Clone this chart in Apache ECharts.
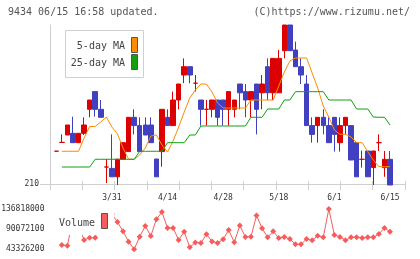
<!DOCTYPE html>
<html>
<head>
<meta charset="utf-8">
<script src="https://cdn.jsdelivr.net/npm/echarts@6/dist/echarts.min.js"></script>
<style>
html, body { margin: 0; padding: 0; background: #fff; }
#chart { width: 420px; height: 259px; }
</style>
</head>
<body>
<div id="chart"></div>
<script>
"use strict";
// trading days shown on the chart
var days = ['3/17','3/18','3/19','3/22','3/23','3/24','3/25','3/26','3/29','3/30',
  '3/31','4/1','4/2','4/5','4/6','4/7','4/8','4/9','4/12','4/13',
  '4/14','4/15','4/16','4/19','4/20','4/21','4/22','4/23','4/26','4/27',
  '4/28','4/30','5/6','5/7','5/10','5/11','5/12','5/13','5/14','5/17',
  '5/18','5/19','5/20','5/21','5/24','5/25','5/26','5/27','5/28','5/31',
  '6/1','6/2','6/3','6/4','6/7','6/8','6/9','6/10','6/11','6/14','6/15'];

// [open, close, low, high]
var candles = [
  [218.2, 218.2, 218.2, 218.2], [220.4, 220.4, 220.3, 222.4], [222.25, 224.75, 222.25, 224.75],
  [222.67, 220.33, 220.33, 226.83], [220.33, 222.67, 220.33, 222.67], [222.67, 224.75, 222.25, 226.67],
  [228.67, 231, 226.67, 231], [233.1, 228.67, 226.83, 233.1], [228.67, 226.67, 226.67, 231],
  [214.25, 214.25, 210.25, 216.25], [213.9, 211.8, 211.8, 222.4], [211.8, 216.2, 209.75, 216.2],
  [216.17, 220.33, 216.17, 220.33], [218.1, 226.67, 218.1, 226.67], [226.67, 224.6, 222.4, 228.67],
  [224.6, 218.1, 218.1, 226.67], [224.75, 222.25, 222.25, 226.67], [224.75, 220.33, 220.33, 226.67],
  [216.25, 211.8, 211.8, 216.25], [218.1, 228.67, 214.33, 228.67], [226.67, 224.6, 224.6, 228.67],
  [224.6, 231, 224.6, 233.1], [231, 235, 228.67, 235], [237.25, 239.33, 235.2, 241.4],
  [239.33, 237.25, 235.2, 239.33], [235.2, 235.2, 233.1, 237.25], [231, 228.67, 224.6, 231],
  [228.67, 228.67, 224.6, 231], [228.67, 231, 226.67, 231], [231, 226.67, 224.6, 231],
  [231, 228.67, 224.6, 231], [228.67, 233.1, 224.6, 233.1], [228.67, 231, 226.67, 231],
  [235, 232.8, 228.67, 235], [233.1, 231, 226.67, 235], [231, 233.1, 226.67, 233.1],
  [235, 228.67, 222.4, 235], [232.8, 235, 228.67, 237.25], [239.33, 232.8, 231, 241.4],
  [232.8, 241.4, 231, 241.4], [232.8, 241.4, 232.8, 243.5], [243.33, 249.75, 241.4, 249.75],
  [249.75, 243.33, 243.33, 249.75], [243.5, 239.33, 239.33, 245.6], [239.33, 237.25, 235, 241.4],
  [235, 224.6, 224.6, 237.25], [224.6, 222.4, 220.33, 226.67], [224.6, 226.67, 220.33, 226.67],
  [226.67, 224.6, 222.4, 228.67], [224.6, 220.33, 220.33, 226.67], [226.67, 222.4, 218.1, 226.67],
  [220.33, 224.6, 218.1, 226.67], [224.6, 226.67, 222.4, 226.67], [224.6, 216, 216, 224.6],
  [220.33, 211.8, 211.8, 220.33], [216.17, 216.17, 214.1, 218.33], [218.25, 211.8, 211.8, 218.25],
  [214.1, 218.25, 209.75, 218.25], [220.33, 220.33, 218.25, 222.4], [214.1, 216.17, 211.8, 218.25],
  [216.17, 209.75, 209.75, 218.25]
];

var ma5 = [null, 218.18, 218.18, 218.18, 218.18, 221.5, 224.38, 224.38, 225.5, 226.75,
  224.25, 222.5, 219, 216.18, 216.18, 217.25, 219, 222, 222.25, 219.75,
  218, 220.75, 224.25, 228, 231.5, 233.5, 235, 235, 233, 230.25,
  229, 229, 229, 229, 229, 231, 231, 231, 231, 231,
  234.5, 238, 240.75, 241.5, 241.5, 241.5, 237.75, 234, 229.5, 226.75,
  223.5, 222.43, 222.43, 221.75, 220.33, 220.33, 218.08, 216, 214.33, 214.33, 214.33];

var ma25 = [null, 214.25, 214.25, 214.25, 214.25, 214.25, 214.25, 216.18, 216.18, 216.18,
  216.18, 216.18, 216.18, 216.18, 216.18, 218.18, 218.18, 218.18, 218.18, 218.18,
  220.33, 220.33, 220.33, 220.33, 222.25, 222.25, 224.5, 224.5, 224.5, 224.5,
  224.5, 224.5, 224.5, 224.5, 224.5, 226.68, 226.68, 226.68, 228.75, 228.75,
  228.75, 231, 231, 233.08, 233.08, 233.08, 233.08, 233.08, 233.08, 231,
  231, 231, 231, 231, 228.75, 228.75, 228.75, 226.75, 226.68, 226.68, 224.75];

var volume = [null, 52680000, 51040000, 115780000, 99420000, 64360000, 69740000, 69740000, 106430000, 111110000,
  125130000, 106430000, 84930000, 60390000, 42630000, 72080000, 97080000, 73710000, 112740000, 129800000,
  92410000, 92410000, 64360000, 83760000, 47300000, 58520000, 57350000, 77920000, 60860000, 57350000,
  66230000, 87730000, 58990000, 98480000, 71370000, 72080000, 121620000, 91710000, 70670000, 84700000,
  69040000, 71370000, 66700000, 54310000, 54310000, 66700000, 63660000, 74180000, 70670000, 136810000,
  76050000, 71370000, 63660000, 70670000, 70670000, 69040000, 70670000, 70670000, 78390000, 92410000, 83760000];

var volTicks = [43326200, 90072100, 136818000];
var priceTicks = [210];
var shownDays = ['3/31', '4/14', '4/28', '5/18', '6/1', '6/15'];

var mono = 'DejaVu Sans Mono';
var gridLine = '#cfcfcf';
var upColor = '#dd0000';
var downColor = '#4040c0';
var ma5Color = '#ff8c00';
var ma25Color = '#10a010';
var volColor = '#f75c5c';

var chart = echarts.init(document.getElementById('chart'), null, { renderer: 'canvas' });

var option = {
  animation: false,
  backgroundColor: '#fff',
  grid: [
    { left: 53.5, right: 27.2, top: 25, height: 159, outerBoundsMode: 'none' },   // candles
    { left: 50, right: 15, top: 25, height: 159, outerBoundsMode: 'none' },       // frame + ticks
    { left: 53.5, right: 27.2, top: 209, height: 40, outerBoundsMode: 'none' }    // volume
  ],
  xAxis: [
    {
      type: 'category', gridIndex: 0, data: days, boundaryGap: true,
      axisLine: { show: false }, axisTick: { show: false }, splitLine: { show: false },
      axisLabel: {
        interval: function (idx, val) { return shownDays.indexOf(val) >= 0; },
        margin: 10, fontFamily: mono, fontSize: 8, color: '#333'
      }
    },
    {
      type: 'value', gridIndex: 1, min: 0, max: 11, interval: 1, position: 'bottom',
      axisLine: { lineStyle: { color: gridLine } },
      axisTick: { length: 6, lineStyle: { color: gridLine } },
      axisLabel: { show: false }, splitLine: { show: false }
    },
    {
      type: 'value', gridIndex: 1, min: 0, max: 11, interval: 1, position: 'bottom',
      axisLine: { show: false },
      axisTick: { inside: true, length: 3, lineStyle: { color: gridLine } },
      axisLabel: { show: false }, splitLine: { show: false }
    },
    {
      type: 'category', gridIndex: 2, data: days, boundaryGap: true, show: false
    }
  ],
  yAxis: [
    { type: 'value', gridIndex: 0, min: 210, max: 249.75, show: false },
    {
      type: 'value', gridIndex: 1, min: 210, max: 249.75,
      axisLine: { show: true, lineStyle: { color: gridLine } },
      axisTick: { show: true, length: 10, customValues: priceTicks, lineStyle: { color: gridLine } },
      axisLabel: { customValues: priceTicks, margin: 11, fontFamily: mono, fontSize: 8, color: '#333' },
      splitLine: { show: false }
    },
    {
      type: 'value', gridIndex: 2, min: volTicks[0], max: volTicks[2],
      axisLine: { show: false }, axisTick: { show: false }, splitLine: { show: false },
      axisLabel: {
        customValues: volTicks, margin: 9, fontFamily: mono, fontSize: 8, color: '#333',
        formatter: function (v) { return String(v); }
      }
    }
  ],
  series: [
    {
      type: 'candlestick', xAxisIndex: 0, yAxisIndex: 0, data: candles,
      barWidth: 5, clip: false,
      itemStyle: {
        color: upColor, color0: downColor,
        borderColor: upColor, borderColor0: downColor, borderColorDoji: upColor,
        borderWidth: 1
      }
    },
    {
      type: 'line', xAxisIndex: 0, yAxisIndex: 0, data: ma5, showSymbol: false,
      lineStyle: { color: ma5Color, width: 1 }, z: 3
    },
    {
      type: 'line', xAxisIndex: 0, yAxisIndex: 0, data: ma25, showSymbol: false,
      lineStyle: { color: ma25Color, width: 1 }, z: 3
    },
    {
      type: 'line', xAxisIndex: 3, yAxisIndex: 2, data: volume, clip: false,
      symbol: 'diamond', symbolSize: 6, showAllSymbol: true,
      itemStyle: { color: volColor },
      lineStyle: { color: volColor, width: 1 }
    }
  ],
  graphic: [
    { type: 'text', x: 8, y: 12, z: 100,
      style: { text: '9434 06/15 16:58 updated.', font: '10px ' + mono, fill: '#555', verticalAlign: 'middle' } },
    { type: 'text', x: 410, y: 12, z: 100,
      style: { text: '(C)https://www.rizumu.net/', font: '10px ' + mono, fill: '#555', align: 'right', verticalAlign: 'middle' } },
    // MA legend
    { type: 'rect', z: 100, shape: { x: 65.5, y: 30.5, width: 78, height: 47 },
      style: { fill: '#fff', stroke: '#d0d0d0', lineWidth: 1 } },
    { type: 'text', x: 125, y: 46, z: 101,
      style: { text: '5-day MA', font: '10px ' + mono, fill: '#444', align: 'right', verticalAlign: 'middle' } },
    { type: 'text', x: 125, y: 63, z: 101,
      style: { text: '25-day MA', font: '10px ' + mono, fill: '#444', align: 'right', verticalAlign: 'middle' } },
    { type: 'rect', z: 101, shape: { x: 131.5, y: 37.5, width: 6, height: 15 },
      style: { fill: ma5Color, stroke: '#555', lineWidth: 1 } },
    { type: 'rect', z: 101, shape: { x: 131.5, y: 54.5, width: 6, height: 15 },
      style: { fill: ma25Color, stroke: '#555', lineWidth: 1 } },
    // volume legend
    { type: 'rect', z: 100, shape: { x: 55, y: 211, width: 59, height: 24 },
      style: { fill: '#fff' } },
    { type: 'text', x: 59, y: 223, z: 101,
      style: { text: 'Volume', font: '10px ' + mono, fill: '#444', verticalAlign: 'middle' } },
    { type: 'rect', z: 101, shape: { x: 101.5, y: 213.5, width: 6, height: 15 },
      style: { fill: volColor, stroke: '#555', lineWidth: 1 } }
  ]
};

chart.setOption(option);
</script>
</body>
</html>
